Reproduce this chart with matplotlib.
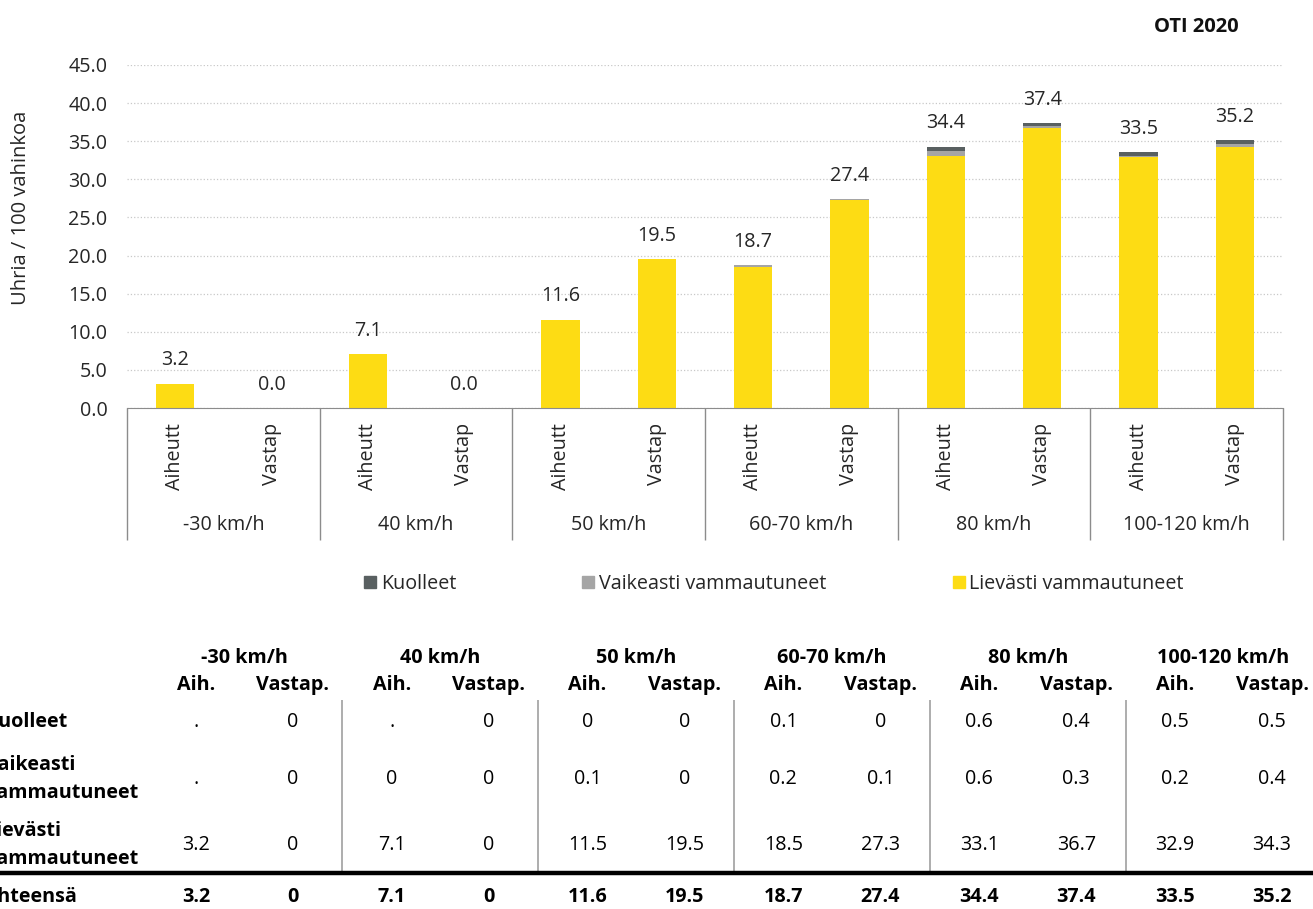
import matplotlib
matplotlib.use("Agg")
import matplotlib.pyplot as plt
import numpy as np
from matplotlib.patches import Patch

plt.rcParams['font.family'] = ['Open Sans', 'DejaVu Sans']

# Data: bars go Aih / Vastap for each speed class, None = "." in the source table
nopeudet = ['-30 km/h', '40 km/h', '50 km/h', '60-70 km/h', '80 km/h', '100-120 km/h']
osapuoli = ['Aiheutt', 'Vastap']
taulu_osapuoli = ['Aih.', 'Vastap.']
kuolleet = [None, 0, None, 0, 0, 0, 0.1, 0, 0.6, 0.4, 0.5, 0.5]
vaikeasti = [None, 0, 0, 0, 0.1, 0, 0.2, 0.1, 0.6, 0.3, 0.2, 0.4]
lievasti = [3.2, 0, 7.1, 0, 11.5, 19.5, 18.5, 27.3, 33.1, 36.7, 32.9, 34.3]
yhteensa = [3.2, 0, 7.1, 0, 11.6, 19.5, 18.7, 27.4, 34.4, 37.4, 33.5, 35.2]
rivit = ['Kuolleet', 'Vaikeasti\nvammautuneet', 'Lievästi\nvammautuneet', 'Yhteensä']

keltainen = '#FDDC14'
vaaleanharmaa = '#A5A5A5'
tummanharmaa = '#596061'
teksti = '#262626'
fs = 14.2

W, H = 1313, 909
fig = plt.figure(figsize=(W / 100, H / 100), dpi=100)

# Table layer in pixel coordinates
ax_t = fig.add_axes([0, 0, 1, 1])
ax_t.set_xlim(0, W)
ax_t.set_ylim(H, 0)
ax_t.axis('off')

# Chart
left, right, top, bottom = 127, 1283, 65, 408
ax = fig.add_axes([left / W, 1 - bottom / H, (right - left) / W, (bottom - top) / H])

x = np.arange(len(lievasti))
nz = lambda arr: [0 if v is None else v for v in arr]
l = np.array(nz(lievasti))
v = np.array(nz(vaikeasti))
k = np.array(nz(kuolleet))
leveys = 0.4
ax.bar(x, l, leveys, color=keltainen, zorder=2)
ax.bar(x, v, leveys, bottom=l, color=vaaleanharmaa, zorder=2)
ylin = ax.bar(x, k, leveys, bottom=l + v, color=tummanharmaa, zorder=2)
ax.bar_label(ylin, labels=[f'{t:.1f}' for t in yhteensa], padding=9.5,
             fontsize=fs, color=teksti)

ax.set_xlim(-0.5, len(x) - 0.5)
ax.set_ylim(0, 45)
ax.set_yticks(np.arange(0, 46, 5))
ax.set_yticklabels([f'{t:.1f}' for t in np.arange(0, 46, 5)])
ax.yaxis.grid(True, linestyle=':', color='#c8c8c8', lw=0.9, zorder=0)
ax.set_axisbelow(True)
for s in ['top', 'right', 'left']:
    ax.spines[s].set_visible(False)
ax.spines['bottom'].set_color('#8c8c8c')
ax.tick_params(axis='y', length=0, pad=14, labelsize=fs, labelcolor=teksti)
ax.set_xticks(x, labels=osapuoli * len(nopeudet), rotation=90)
ax.tick_params(axis='x', length=0, pad=11, labelsize=fs, labelcolor=teksti)

korkeus = bottom - top
trans = ax.get_xaxis_transform()
ax.vlines(np.arange(-0.5, len(x), 2), -(540 - bottom) / korkeus, 0,
          transform=trans, clip_on=False, colors='#8c8c8c', lw=1)
for i, n in enumerate(nopeudet):
    ax.text(2 * i + 0.5, -(525 - bottom) / korkeus, n, transform=trans,
            ha='center', va='center', fontsize=fs, color=teksti)

fig.text(21 / W, 1 - 208 / H, 'Uhria / 100 vahinkoa', rotation=90,
         ha='center', va='center', fontsize=14.5, color=teksti)
fig.text(1196 / W, 1 - 27 / H, 'OTI 2020', ha='center', va='center',
         fontsize=14.5, fontweight='bold', color='#111111')

handles = [Patch(color=tummanharmaa, label='Kuolleet'),
           Patch(color=vaaleanharmaa, label='Vaikeasti vammautuneet'),
           Patch(color=keltainen, label='Lievästi vammautuneet')]
fig.legend(handles=handles, loc='center', bbox_to_anchor=(774 / W, 1 - 584 / H),
           ncol=3, frameon=False, fontsize=fs, handlelength=0.6, handleheight=0.6,
           handletextpad=0.25, columnspacing=6.4, labelcolor=teksti)

# Table below
ryhma_x = 196 + 195.8 * np.arange(len(nopeudet))
sarake_x = np.ravel(np.column_stack([ryhma_x, ryhma_x + 97]))
rivi_y = [722, 779, 845, 897]
for i, n in enumerate(nopeudet):
    ax_t.text(ryhma_x[i] + 48.5, 658, n, ha='center', va='center',
              fontsize=fs, fontweight='bold', color='black')
for j, cx in enumerate(sarake_x):
    ax_t.text(cx, 685, taulu_osapuoli[j % 2], ha='center', va='center',
              fontsize=fs, fontweight='bold', color='black')

fmt = lambda val: '.' if val is None else f'{val:g}'
for r, sarja in enumerate([kuolleet, vaikeasti, lievasti, yhteensa]):
    paino = 'bold' if r == 3 else 'normal'
    ax_t.text(-15, rivi_y[r], rivit[r], ha='left', va='center', fontsize=fs,
              fontweight='bold', color='black', linespacing=1.55)
    for j, cx in enumerate(sarake_x):
        ax_t.text(cx, rivi_y[r], fmt(sarja[j]), ha='center', va='center',
                  fontsize=fs, fontweight=paino, color='black')

raja_x = (sarake_x[1:-1:2] + sarake_x[2::2]) / 2
ax_t.vlines(raja_x, 700, 871, colors='#a0a0a0', lw=1.2)
ax_t.hlines(873, 0, W, colors='black', lw=3.2)

fig.savefig('out.png', dpi=100)
